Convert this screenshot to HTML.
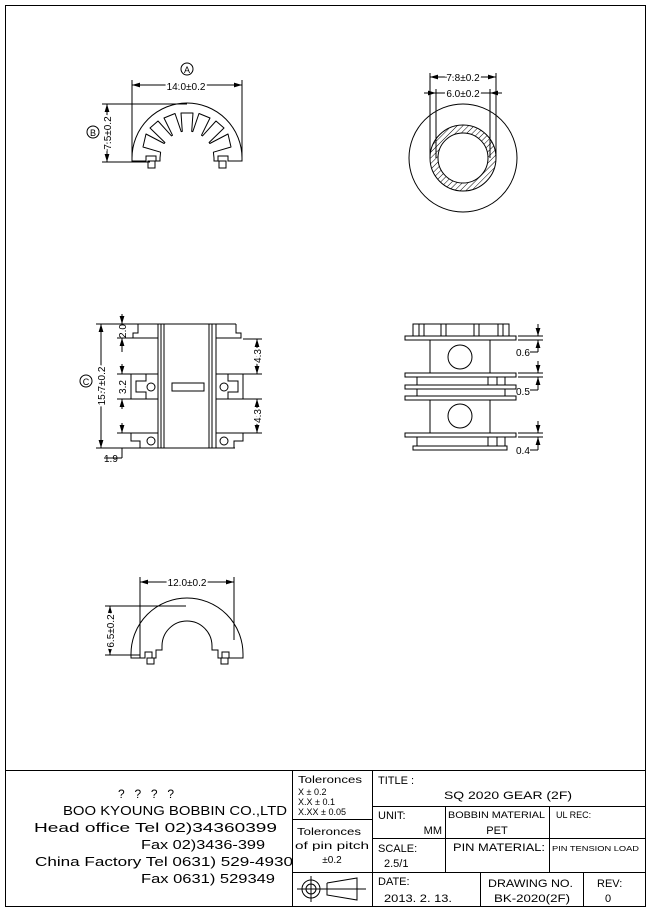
<!DOCTYPE html>
<html><head><meta charset="utf-8"><style>
html,body{margin:0;padding:0;background:#fff}
svg{display:block}
text{font-family:"Liberation Sans",sans-serif;fill:#000}
</style></head><body>
<svg width="651" height="911" viewBox="0 0 651 911" xmlns="http://www.w3.org/2000/svg">
<defs>
<pattern id="h" patternUnits="userSpaceOnUse" width="4" height="4" patternTransform="rotate(45)">
<line x1="0" y1="0" x2="0" y2="4" stroke="#000" stroke-width="1"/></pattern>
<marker id="a" viewBox="0 0 10 6" refX="10" refY="3" markerWidth="8" markerHeight="5" orient="auto-start-reverse"><path d="M0,0L10,3L0,6z" fill="#000"/></marker>
</defs>
<rect x="0" y="0" width="651" height="911" fill="#fff"/>
<rect x="5.5" y="5.5" width="640" height="901" fill="none" stroke="#000" stroke-width="1"/>
<g fill="none" stroke="#000" stroke-width="1">
<path d="M132,158 A55,55 0 0 1 242,158"/>
<polyline stroke-linejoin="round" points="160,158 160.6,152.2 143,147 146,134 164.2,143.5 164.9,142.5 150,128 158,121 171.5,135.9 172.5,135.2 164,118 175,113.5 181.2,131.6 182.3,131.4 181,113 193,113 191.7,131.4 192.8,131.6 199,113.5 210,118 201.5,135.2 202.5,135.9 216,121 224,128 209.1,142.5 209.8,143.5 228,134 231,147 213.4,152.2 214,158"/>
<polyline points="132,158 132,161 146,161 146,156 156,156 156,161 160,161 160,158"/>
<polyline points="214,158 214,161 218,161 218,156 228,156 228,161 242,161 242,158"/>
<rect x="148" y="161" width="7" height="7"/><rect x="219" y="161" width="7" height="7"/>
<line x1="132" y1="80" x2="132" y2="158"/><line x1="242" y1="80" x2="242" y2="158"/>
<line x1="132" y1="85" x2="242" y2="85" marker-start="url(#a)" marker-end="url(#a)"/>
<line x1="102" y1="104" x2="187" y2="104"/><line x1="102" y1="162" x2="150" y2="162"/>
<line x1="107" y1="104" x2="107" y2="162" marker-start="url(#a)" marker-end="url(#a)"/>
<circle cx="187" cy="69" r="6"/><circle cx="93" cy="132" r="6"/>
<circle cx="463" cy="158" r="54"/>
<circle cx="463" cy="158" r="33" fill="url(#h)"/>
<circle cx="463" cy="158" r="25" fill="#fff"/>
<line x1="430" y1="73" x2="430" y2="158"/><line x1="496" y1="73" x2="496" y2="158"/>
<line x1="436" y1="89" x2="436" y2="158"/><line x1="490" y1="89" x2="490" y2="158"/>
<line x1="430" y1="77" x2="496" y2="77" marker-start="url(#a)" marker-end="url(#a)"/>
<line x1="424" y1="93" x2="436" y2="93" marker-end="url(#a)"/><line x1="502" y1="93" x2="490" y2="93" marker-end="url(#a)"/>
<line x1="436" y1="93" x2="490" y2="93"/>
<line x1="138" y1="324" x2="236" y2="324"/>
<polyline points="138,324 138,333 133,333 133,338 158,338"/>
<polyline points="236,324 236,333 241,333 241,338 216,338"/>
<line x1="158" y1="324" x2="158" y2="448"/><line x1="161" y1="324" x2="161" y2="448"/><line x1="164" y1="324" x2="164" y2="448"/>
<line x1="209" y1="324" x2="209" y2="448"/><line x1="212" y1="324" x2="212" y2="448"/><line x1="216" y1="324" x2="216" y2="448"/>
<line x1="140" y1="448" x2="235" y2="448"/>
<polyline points="158,374 131,374 131,399 158,399"/>
<polyline points="146,374 146,381 136,381 136,392 146,392 146,399"/>
<polyline points="216,374 243,374 243,399 216,399"/>
<polyline points="228,374 228,381 238,381 238,392 228,392 228,399"/>
<polyline points="158,433 131,433 131,441 140,441 140,448"/>
<polyline points="216,433 243,433 243,441 234,441 234,448"/>
<circle cx="151" cy="387" r="4"/><circle cx="224" cy="387" r="4"/>
<circle cx="151" cy="441" r="4"/><circle cx="224" cy="441" r="4"/>
<rect x="172" y="383" width="32" height="8"/>
<line x1="96" y1="324" x2="138" y2="324"/><line x1="96" y1="448" x2="140" y2="448"/>
<line x1="101" y1="324" x2="101" y2="448" marker-start="url(#a)" marker-end="url(#a)"/>
<line x1="122" y1="314" x2="122" y2="324" marker-end="url(#a)"/><line x1="122" y1="352" x2="122" y2="338" marker-end="url(#a)"/>
<line x1="117" y1="338" x2="133" y2="338"/>
<line x1="122" y1="364" x2="122" y2="374" marker-end="url(#a)"/><line x1="122" y1="409" x2="122" y2="399" marker-end="url(#a)"/>
<line x1="117" y1="374" x2="131" y2="374"/><line x1="117" y1="399" x2="131" y2="399"/>
<line x1="122" y1="423" x2="122" y2="433" marker-end="url(#a)"/><line x1="122" y1="448" x2="122" y2="458"/>
<line x1="117" y1="433" x2="131" y2="433"/>
<line x1="104" y1="458" x2="122" y2="458"/>
<line x1="243" y1="339" x2="262" y2="339"/><line x1="243" y1="374" x2="262" y2="374"/>
<line x1="257" y1="339" x2="257" y2="374" marker-start="url(#a)" marker-end="url(#a)"/>
<line x1="243" y1="399" x2="262" y2="399"/><line x1="243" y1="433" x2="262" y2="433"/>
<line x1="257" y1="399" x2="257" y2="433" marker-start="url(#a)" marker-end="url(#a)"/>
<circle cx="86" cy="381" r="6"/>
<rect x="413" y="324" width="96" height="12"/>
<line x1="419" y1="324" x2="419" y2="336"/><line x1="424" y1="324" x2="424" y2="336"/>
<line x1="441" y1="324" x2="441" y2="336"/><line x1="446" y1="324" x2="446" y2="336"/>
<line x1="474" y1="324" x2="474" y2="336"/><line x1="479" y1="324" x2="479" y2="336"/>
<line x1="498" y1="324" x2="498" y2="336"/><line x1="503" y1="324" x2="503" y2="336"/>
<rect x="405" y="336" width="111" height="4"/>
<rect x="430" y="340" width="60" height="33"/>
<circle cx="460" cy="357" r="12"/>
<rect x="405" y="373" width="111" height="4"/>
<rect x="417" y="377" width="88" height="8"/>
<rect x="405" y="385" width="111" height="4"/>
<rect x="417" y="389" width="88" height="7"/>
<rect x="405" y="396" width="111" height="4"/>
<line x1="488" y1="377" x2="488" y2="385"/><line x1="497" y1="377" x2="497" y2="385"/>
<rect x="430" y="400" width="60" height="33"/>
<circle cx="460" cy="416" r="12"/>
<rect x="405" y="433" width="111" height="4"/>
<rect x="417" y="437" width="88" height="9"/>
<line x1="488" y1="437" x2="488" y2="446"/><line x1="497" y1="437" x2="497" y2="446"/>
<rect x="413" y="446" width="94" height="4"/>
<line x1="518" y1="336" x2="543" y2="336"/><line x1="518" y1="340" x2="543" y2="340"/>
<line x1="538" y1="324" x2="538" y2="336" marker-end="url(#a)"/><line x1="538" y1="352" x2="538" y2="340" marker-end="url(#a)"/>
<line x1="530" y1="352" x2="538" y2="352"/>
<line x1="518" y1="373" x2="543" y2="373"/><line x1="518" y1="377" x2="543" y2="377"/>
<line x1="538" y1="361" x2="538" y2="373" marker-end="url(#a)"/><line x1="538" y1="390" x2="538" y2="377" marker-end="url(#a)"/>
<line x1="530" y1="390" x2="538" y2="390"/>
<line x1="518" y1="433" x2="543" y2="433"/><line x1="518" y1="437" x2="543" y2="437"/>
<line x1="538" y1="421" x2="538" y2="433" marker-end="url(#a)"/><line x1="538" y1="450" x2="538" y2="437" marker-end="url(#a)"/>
<line x1="530" y1="450" x2="538" y2="450"/>
<path d="M131,654 A56,56 0 0 1 243,654"/>
<path d="M162,646 A25,25 0 0 1 212,646"/>
<polyline points="131,654 131,658 145,658 145,652 152,652 152,658 156,658 156,650 162,650 162,646"/>
<polyline points="243,654 243,658 229,658 229,652 222,652 222,658 218,658 218,650 212,650 212,646"/>
<rect x="147" y="658" width="7" height="6"/><rect x="221" y="658" width="7" height="6"/>
<line x1="140" y1="577" x2="140" y2="658"/><line x1="234" y1="577" x2="234" y2="640"/>
<line x1="140" y1="582" x2="234" y2="582" marker-start="url(#a)" marker-end="url(#a)"/>
<line x1="105" y1="606" x2="186" y2="606"/><line x1="105" y1="655" x2="140" y2="655"/>
<line x1="110" y1="606" x2="110" y2="655" marker-start="url(#a)" marker-end="url(#a)"/>
<line x1="5" y1="770.5" x2="645" y2="770.5"/>
<line x1="292.5" y1="770" x2="292.5" y2="906"/>
<line x1="372.5" y1="770" x2="372.5" y2="906"/>
<line x1="292" y1="819.5" x2="372" y2="819.5"/>
<line x1="292" y1="872.5" x2="645" y2="872.5"/>
<line x1="372" y1="806.5" x2="645" y2="806.5"/>
<line x1="372" y1="838.5" x2="645" y2="838.5"/>
<line x1="445.5" y1="806" x2="445.5" y2="872"/>
<line x1="549.5" y1="806" x2="549.5" y2="872"/>
<line x1="480.5" y1="872" x2="480.5" y2="906"/>
<line x1="583.5" y1="872" x2="583.5" y2="906"/>
<circle cx="311" cy="889" r="9"/><circle cx="311" cy="889" r="5"/>
<line x1="297" y1="889" x2="366" y2="889"/><line x1="311" y1="876" x2="311" y2="902"/>
<polyline points="327,883 327,895 357,900 357,878 327,883"/>
</g>
<g font-size="11">
<text x="186" y="90" text-anchor="middle" font-size="10" style="paint-order:stroke" stroke="#fff" stroke-width="4">14.0±0.2</text>
<text x="187" y="73" text-anchor="middle" font-size="9">A</text>
<text x="93" y="136" text-anchor="middle" font-size="9">B</text>
<text x="86" y="385" text-anchor="middle" font-size="9">C</text>
<text transform="translate(111,133) rotate(-90)" text-anchor="middle" font-size="10" style="paint-order:stroke" stroke="#fff" stroke-width="4">7.5±0.2</text>
<text x="463" y="81" text-anchor="middle" font-size="10" style="paint-order:stroke" stroke="#fff" stroke-width="4">7.8±0.2</text>
<text x="463" y="97" text-anchor="middle" font-size="10" style="paint-order:stroke" stroke="#fff" stroke-width="4">6.0±0.2</text>
<text transform="translate(105,386) rotate(-90)" text-anchor="middle" font-size="10" style="paint-order:stroke" stroke="#fff" stroke-width="4">15.7±0.2</text>
<text transform="translate(126,331) rotate(-90)" text-anchor="middle" font-size="10">2.0</text>
<text transform="translate(126,387) rotate(-90)" text-anchor="middle" font-size="10" style="paint-order:stroke" stroke="#fff" stroke-width="4">3.2</text>
<text transform="translate(261,356) rotate(-90)" text-anchor="middle" font-size="10" style="paint-order:stroke" stroke="#fff" stroke-width="4">4.3</text>
<text transform="translate(261,416) rotate(-90)" text-anchor="middle" font-size="10" style="paint-order:stroke" stroke="#fff" stroke-width="4">4.3</text>
<text x="104" y="462" font-size="10">1.9</text>
<text x="516" y="356" font-size="10">0.6</text>
<text x="516" y="395" font-size="10">0.5</text>
<text x="516" y="454" font-size="10">0.4</text>
<text x="187" y="586" text-anchor="middle" font-size="10" style="paint-order:stroke" stroke="#fff" stroke-width="4">12.0±0.2</text>
<text transform="translate(114,631) rotate(-90)" text-anchor="middle" font-size="10" style="paint-order:stroke" stroke="#fff" stroke-width="4">6.5±0.2</text>
<text x="118" y="798" font-size="12" textLength="56" lengthAdjust="spacing">?  ?  ?  ?</text>
<text x="63" y="815" font-size="13" textLength="224" lengthAdjust="spacingAndGlyphs">BOO KYOUNG BOBBIN CO.,LTD</text>
<text x="34" y="832" font-size="13" textLength="243" lengthAdjust="spacingAndGlyphs">Head office Tel  02)34360399</text>
<text x="141" y="849" font-size="13" textLength="124" lengthAdjust="spacingAndGlyphs">Fax  02)3436-399</text>
<text x="35" y="866" font-size="13" textLength="258" lengthAdjust="spacingAndGlyphs">China Factory Tel 0631) 529-4930</text>
<text x="141" y="883" font-size="13" textLength="134" lengthAdjust="spacingAndGlyphs">Fax 0631) 529349</text>
<text x="298" y="783" font-size="10" textLength="64" lengthAdjust="spacingAndGlyphs">Toleronces</text>
<text x="298" y="795" font-size="9">X      ± 0.2</text>
<text x="298" y="805" font-size="9">X.X    ± 0.1</text>
<text x="298" y="815" font-size="9">X.XX  ± 0.05</text>
<text x="297" y="835" font-size="10" textLength="64" lengthAdjust="spacingAndGlyphs">Toleronces</text>
<text x="295" y="849" font-size="10" textLength="74" lengthAdjust="spacingAndGlyphs">of pin pitch</text>
<text x="332" y="863" text-anchor="middle" font-size="10">±0.2</text>
<text x="378" y="784" font-size="11">TITLE :</text>
<text x="444" y="799" font-size="11" textLength="128" lengthAdjust="spacingAndGlyphs">SQ 2020 GEAR (2F)</text>
<text x="378" y="819" font-size="11">UNIT:</text>
<text x="442" y="834" text-anchor="end" font-size="11">MM</text>
<text x="448" y="818" font-size="9" textLength="97" lengthAdjust="spacingAndGlyphs">BOBBIN MATERIAL</text>
<text x="497" y="834" text-anchor="middle" font-size="11">PET</text>
<text x="556" y="818" font-size="9">UL REC:</text>
<text x="378" y="852" font-size="11">SCALE:</text>
<text x="384" y="867" font-size="11">2.5/1</text>
<text x="453" y="851" font-size="11" textLength="92" lengthAdjust="spacingAndGlyphs">PIN MATERIAL:</text>
<text x="552" y="851" font-size="7.5" textLength="87" lengthAdjust="spacingAndGlyphs">PIN TENSION LOAD</text>
<text x="378" y="885" font-size="11">DATE:</text>
<text x="384" y="902" font-size="11" textLength="68" lengthAdjust="spacingAndGlyphs">2013. 2. 13.</text>
<text x="488" y="887" font-size="11" textLength="85" lengthAdjust="spacingAndGlyphs">DRAWING NO.</text>
<text x="494" y="902" font-size="11" textLength="76" lengthAdjust="spacingAndGlyphs">BK-2020(2F)</text>
<text x="597" y="887" font-size="11">REV:</text>
<text x="605" y="902" font-size="11">0</text>
</g>
</svg>
</body></html>
